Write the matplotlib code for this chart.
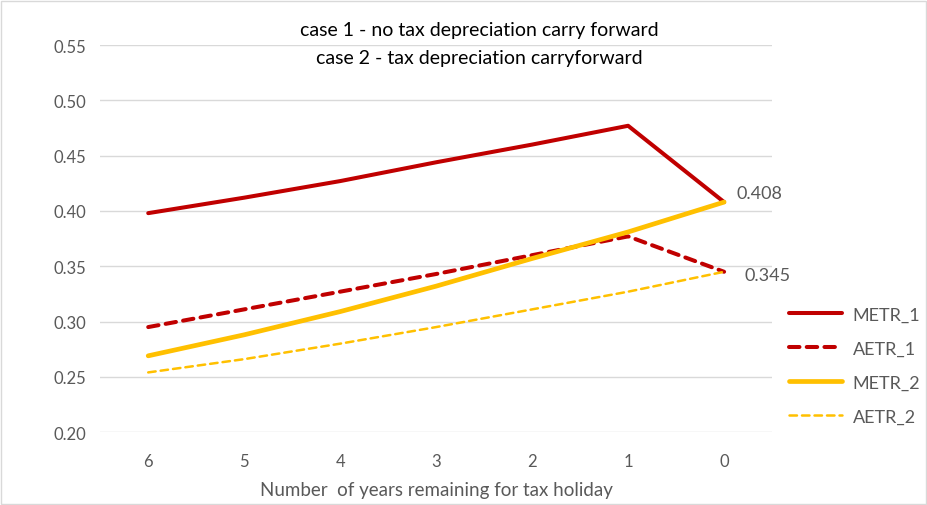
import matplotlib.pyplot as plt
from matplotlib.patches import Rectangle

plt.rcParams['font.family'] = ['Lato', 'DejaVu Sans']

# data
years = ['6', '5', '4', '3', '2', '1', '0']
metr_1 = [0.398, 0.412, 0.427, 0.444, 0.460, 0.477, 0.408]
aetr_1 = [0.295, 0.311, 0.327, 0.343, 0.360, 0.377, 0.345]
metr_2 = [0.269, 0.288, 0.309, 0.332, 0.357, 0.381, 0.408]
aetr_2 = [0.254, 0.266, 0.280, 0.295, 0.311, 0.327, 0.345]
yticks = [0.20, 0.25, 0.30, 0.35, 0.40, 0.45, 0.50, 0.55]

red = '#C00000'
gold = '#FFC000'
grey = '#595959'

fig = plt.figure(figsize=(9.28, 5.06), dpi=100)
ax = fig.add_axes([0.108, 0.144, 0.724, 0.765])

x = range(len(years))
ax.plot(x, metr_1, color=red, lw=2.9, label='METR_1', solid_capstyle='round')
ax.plot(x, aetr_1, color=red, lw=2.9, ls=(0, (2.6, 1.8)), label='AETR_1', dash_capstyle='round')
ax.plot(x, metr_2, color=gold, lw=3.4, label='METR_2', solid_capstyle='round')
ax.plot(x, aetr_2, color=gold, lw=1.8, ls=(0, (3, 2)), label='AETR_2', dash_capstyle='round')

ax.set_xlim(-0.5, len(years) - 0.5)
ax.set_ylim(0.20, 0.55)
ax.set_yticks(yticks)
ax.set_yticklabels([f'{v:.2f}' for v in yticks])
ax.set_xticks(list(x))
ax.set_xticklabels(years)
ax.grid(axis='y', color='#D9D9D9', lw=1)
ax.set_axisbelow(True)
for s in ax.spines.values():
    s.set_visible(False)
ax.tick_params(length=0, labelsize=12, labelcolor=grey, pad=10)
ax.tick_params(axis='x', pad=15)

ax.set_xlabel('Number  of years remaining for tax holiday', fontsize=13.5, color=grey, labelpad=9)

# data labels
ax.annotate(f'{metr_2[-1]:.3f}', (6, metr_2[-1]), xytext=(9, 1), textcoords='offset points',
            va='bottom', fontsize=13, color=grey)
ax.annotate(f'{aetr_2[-1]:.3f}', (6, aetr_2[-1]), xytext=(15, -2), textcoords='offset points',
            va='center', fontsize=13, color=grey)

fig.text(0.516, 0.94, 'case 1 - no tax depreciation carry forward', ha='center', va='center',
         fontsize=14, color='black')
fig.text(0.516, 0.885, 'case 2 - tax depreciation carryforward', ha='center', va='center',
         fontsize=14, color='black')

ax.legend(loc='center left', bbox_to_anchor=(1.015, 0.172), frameon=False, fontsize=13,
          labelcolor=grey, handlelength=2.9, handletextpad=0.6, labelspacing=1.0,
          borderaxespad=0)

fig.patches.append(Rectangle((0.001, 0.002), 0.997, 0.995, transform=fig.transFigure,
                             fill=False, edgecolor='#D9D9D9', lw=1))

fig.savefig('out.png', dpi=100)
